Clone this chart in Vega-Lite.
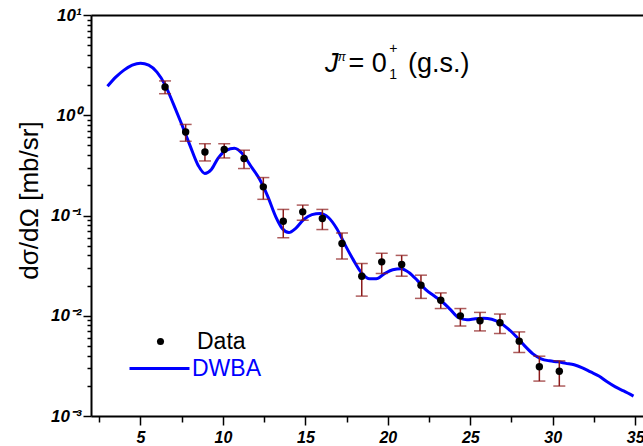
{
  "$schema": "https://vega.github.io/schema/vega-lite/v6.json",
  "autosize": {"type": "none"},
  "padding": {"left": 91, "top": 15, "right": 0, "bottom": 30},
  "width": 552,
  "height": 401,
  "background": "white",
  "config": {
    "view": {"stroke": null},
    "font": "Liberation Sans",
    "axis": {"domainColor": "black", "domainWidth": 2, "tickColor": "black", "tickWidth": 1.5, "labelColor": "black", "grid": false}
  },
  "datasets": {
    "dwba": [
      {"x": 3.0, "y": 1.945}, {"x": 3.5, "y": 2.40}, {"x": 4.0, "y": 2.82}, {"x": 4.5, "y": 3.16},
      {"x": 5.0, "y": 3.31}, {"x": 5.5, "y": 3.16}, {"x": 6.0, "y": 2.69}, {"x": 6.5, "y": 2.0},
      {"x": 7.0, "y": 1.29}, {"x": 7.5, "y": 0.813}, {"x": 8.0, "y": 0.501}, {"x": 8.5, "y": 0.316},
      {"x": 8.9, "y": 0.263}, {"x": 9.3, "y": 0.288}, {"x": 9.7, "y": 0.372}, {"x": 10.2, "y": 0.447},
      {"x": 10.7, "y": 0.468}, {"x": 11.2, "y": 0.41}, {"x": 11.7, "y": 0.31}, {"x": 12.2, "y": 0.234},
      {"x": 12.7, "y": 0.158}, {"x": 13.2, "y": 0.0977}, {"x": 13.6, "y": 0.0741}, {"x": 14.0, "y": 0.0676},
      {"x": 14.4, "y": 0.0741}, {"x": 14.9, "y": 0.0912}, {"x": 15.4, "y": 0.102}, {"x": 15.9, "y": 0.105},
      {"x": 16.4, "y": 0.0955}, {"x": 16.9, "y": 0.0741}, {"x": 17.4, "y": 0.0513}, {"x": 17.9, "y": 0.0363},
      {"x": 18.4, "y": 0.0269}, {"x": 18.9, "y": 0.0234}, {"x": 19.3, "y": 0.0234}, {"x": 19.8, "y": 0.0263},
      {"x": 20.3, "y": 0.0288}, {"x": 20.8, "y": 0.0295}, {"x": 21.3, "y": 0.0269}, {"x": 21.8, "y": 0.0224},
      {"x": 22.3, "y": 0.0182}, {"x": 22.8, "y": 0.0158}, {"x": 23.3, "y": 0.0138}, {"x": 23.8, "y": 0.0115},
      {"x": 24.3, "y": 0.00955}, {"x": 24.8, "y": 0.00912}, {"x": 25.3, "y": 0.00933}, {"x": 25.8, "y": 0.00944},
      {"x": 26.3, "y": 0.00923}, {"x": 26.8, "y": 0.00851}, {"x": 27.3, "y": 0.00741}, {"x": 27.8, "y": 0.00617},
      {"x": 28.3, "y": 0.00501}, {"x": 28.8, "y": 0.00417}, {"x": 29.3, "y": 0.00372}, {"x": 29.8, "y": 0.00355},
      {"x": 30.3, "y": 0.00347}, {"x": 30.8, "y": 0.00335}, {"x": 31.3, "y": 0.00324}, {"x": 31.8, "y": 0.00302},
      {"x": 32.3, "y": 0.00275}, {"x": 32.8, "y": 0.00251}, {"x": 33.3, "y": 0.00219}, {"x": 33.8, "y": 0.00195},
      {"x": 34.3, "y": 0.00178}, {"x": 34.9, "y": 0.00158}
    ],
    "exp": [
      {"x": 6.49, "y": 1.91, "lo": 1.64, "hi": 2.20},
      {"x": 7.74, "y": 0.68, "lo": 0.55, "hi": 0.81},
      {"x": 8.91, "y": 0.43, "lo": 0.35, "hi": 0.52},
      {"x": 10.08, "y": 0.455, "lo": 0.375, "hi": 0.52},
      {"x": 11.28, "y": 0.37, "lo": 0.294, "hi": 0.448},
      {"x": 12.45, "y": 0.193, "lo": 0.145, "hi": 0.239},
      {"x": 13.66, "y": 0.0877, "lo": 0.060, "hi": 0.115},
      {"x": 14.84, "y": 0.1087, "lo": 0.0897, "hi": 0.127},
      {"x": 16.03, "y": 0.0933, "lo": 0.0724, "hi": 0.115},
      {"x": 17.22, "y": 0.0526, "lo": 0.0369, "hi": 0.067},
      {"x": 18.42, "y": 0.0248, "lo": 0.0157, "hi": 0.0332},
      {"x": 19.63, "y": 0.0345, "lo": 0.0264, "hi": 0.042},
      {"x": 20.84, "y": 0.0324, "lo": 0.0248, "hi": 0.040},
      {"x": 22.01, "y": 0.0202, "lo": 0.0149, "hi": 0.0254},
      {"x": 23.21, "y": 0.0143, "lo": 0.0118, "hi": 0.0169},
      {"x": 24.40, "y": 0.00998, "lo": 0.0079, "hi": 0.0118},
      {"x": 25.59, "y": 0.0089, "lo": 0.00706, "hi": 0.0108},
      {"x": 26.80, "y": 0.0085, "lo": 0.00665, "hi": 0.0104},
      {"x": 27.97, "y": 0.00558, "lo": 0.0043, "hi": 0.0069},
      {"x": 29.19, "y": 0.0031, "lo": 0.00223, "hi": 0.00395},
      {"x": 30.40, "y": 0.0028, "lo": 0.00199, "hi": 0.00355}
    ]
  },
  "layer": [
    {
      "data": {"name": "dwba"},
      "transform": [{"calculate": "'DWBA'", "as": "model"}],
      "mark": {"type": "line", "strokeWidth": 3, "interpolate": "monotone"},
      "encoding": {
        "x": {"field": "x", "type": "quantitative",
          "scale": {"domain": [2, 35.475], "nice": false, "zero": false},
          "axis": {"title": null, "orient": "bottom",
            "values": [2.5, 5, 7.5, 10, 12.5, 15, 17.5, 20, 22.5, 25, 27.5, 30, 32.5, 35],
            "labelExpr": "datum.value % 5 == 0 ? datum.label : ''",
            "tickSize": {"condition": {"test": "datum.value % 5 == 0", "value": 9}, "value": 6},
            "labelFontSize": 16, "labelFontWeight": "bold", "labelFontStyle": "italic",
            "labelPadding": 4, "labelOverlap": false, "labelBound": false, "labelFlush": false}},
        "y": {"field": "y", "type": "quantitative",
          "scale": {"type": "log", "domain": [0.001, 10], "nice": false},
          "axis": {"title": "dσ/dΩ [mb/sr]",
            "values": [0.001, 0.002, 0.003, 0.004, 0.005, 0.006, 0.007, 0.008, 0.009,
                       0.01, 0.02, 0.03, 0.04, 0.05, 0.06, 0.07, 0.08, 0.09,
                       0.1, 0.2, 0.3, 0.4, 0.5, 0.6, 0.7, 0.8, 0.9,
                       1, 2, 3, 4, 5, 6, 7, 8, 9, 10],
            "labelExpr": "datum.value == 10 ? '10¹' : datum.value == 1 ? '10⁰' : datum.value == 0.1 ? '10⁻¹' : datum.value == 0.01 ? '10⁻²' : datum.value == 0.001 ? '10⁻³' : ''",
            "tickSize": {"condition": {"test": "datum.value == 10 || datum.value == 1 || datum.value == 0.1 || datum.value == 0.01 || datum.value == 0.001", "value": 8}, "value": 4},
            "labelFontSize": 17, "labelFontWeight": "bold", "labelFontStyle": "italic",
            "labelPadding": 2, "labelOverlap": false, "labelBound": false, "labelFlush": false,
            "titleFontSize": 26, "titleFontWeight": "normal", "titleColor": "black",
            "titleAngle": -90, "titleAlign": "center", "titleBaseline": "middle",
            "titleX": -62, "titleY": 185}},
        "color": {"field": "model", "type": "nominal",
          "scale": {"domain": ["DWBA"], "range": ["#0000ff"]},
          "legend": {"title": null, "orient": "none", "legendX": 37, "legendY": 322,
            "symbolType": "stroke", "symbolSize": 3600, "symbolStrokeWidth": 3,
            "labelFontSize": 23, "labelColor": "#0000ff", "labelOffset": 1, "padding": 0}}
      }
    },
    {
      "data": {"name": "exp"},
      "mark": {"type": "errorbar", "color": "#8b1a1a", "thickness": 1.5, "ticks": {"size": 12, "thickness": 1.5, "color": "#8b1a1a"}},
      "encoding": {
        "x": {"field": "x", "type": "quantitative", "axis": null},
        "y": {"field": "lo", "type": "quantitative", "axis": {"title": "dσ/dΩ [mb/sr]"}},
        "y2": {"field": "hi"}
      }
    },
    {
      "data": {"name": "exp"},
      "transform": [{"calculate": "'Data'", "as": "kind"}],
      "mark": {"type": "point", "filled": true, "color": "black", "size": 55, "opacity": 1},
      "encoding": {
        "x": {"field": "x", "type": "quantitative",
          "axis": {"orient": "top", "title": null, "ticks": false, "labels": false, "domain": true}},
        "y": {"field": "y", "type": "quantitative", "axis": {"title": "dσ/dΩ [mb/sr]"}},
        "shape": {"field": "kind", "type": "nominal",
          "scale": {"domain": ["Data"], "range": ["circle"]},
          "legend": {"title": null, "orient": "none", "legendX": 58, "legendY": 315,
            "symbolSize": 50, "symbolFillColor": "black", "symbolStrokeColor": "black",
            "labelFontSize": 23, "labelColor": "black", "labelOffset": 25, "padding": 0}}
      }
    },
    {
      "data": {"values": [{"x": 16.19, "y": 2.68, "t": "J"}]},
      "mark": {"type": "text", "align": "left", "baseline": "alphabetic", "fontSize": 27, "fontStyle": "italic", "color": "black"},
      "encoding": {
        "x": {"field": "x", "type": "quantitative", "axis": null},
        "y": {"field": "y", "type": "quantitative", "axis": {"title": "dσ/dΩ [mb/sr]"}},
        "text": {"field": "t"}
      }
    },
    {
      "data": {"values": [{"x": 16.97, "y": 3.45, "t": "π"}]},
      "mark": {"type": "text", "align": "left", "baseline": "alphabetic", "fontSize": 12, "fontStyle": "italic", "color": "black"},
      "encoding": {
        "x": {"field": "x", "type": "quantitative", "axis": null},
        "y": {"field": "y", "type": "quantitative", "axis": {"title": "dσ/dΩ [mb/sr]"}},
        "text": {"field": "t"}
      }
    },
    {
      "data": {"values": [{"x": 17.62, "y": 2.68, "t": "= 0"}, {"x": 21.22, "y": 2.68, "t": "(g.s.)"}]},
      "mark": {"type": "text", "align": "left", "baseline": "alphabetic", "fontSize": 27, "color": "black"},
      "encoding": {
        "x": {"field": "x", "type": "quantitative", "axis": null},
        "y": {"field": "y", "type": "quantitative", "axis": {"title": "dσ/dΩ [mb/sr]"}},
        "text": {"field": "t"}
      }
    },
    {
      "data": {"values": [{"x": 20.08, "y": 4.15, "t": "+"}, {"x": 20.08, "y": 2.29, "t": "1"}]},
      "mark": {"type": "text", "align": "left", "baseline": "alphabetic", "fontSize": 14, "color": "black"},
      "encoding": {
        "x": {"field": "x", "type": "quantitative", "axis": null},
        "y": {"field": "y", "type": "quantitative", "axis": {"title": "dσ/dΩ [mb/sr]"}},
        "text": {"field": "t"}
      }
    }
  ],
  "resolve": {"axis": {"x": "independent"}}
}
